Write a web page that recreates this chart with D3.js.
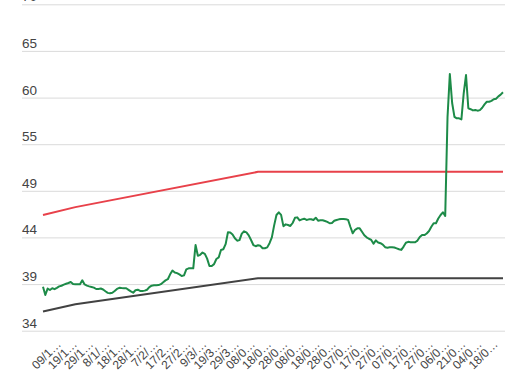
<!DOCTYPE html>
<html>
<head>
<meta charset="utf-8">
<script src="https://cdn.jsdelivr.net/npm/d3@7"></script>
<style>
  body { margin: 0; background: #fff; }
  svg { display: block; font-family: Roboto, "Noto Sans", sans-serif; }
  .grid line { stroke: #dadada; stroke-width: 1; }
  .grid path, .xaxis path { display: none; }
  .grid text { fill: #444; font-size: 13.5px; }
  .xaxis text { fill: #444; font-size: 12px; }
  .series { fill: none; stroke-width: 2; stroke-linejoin: round; }
</style>
</head>
<body>
<svg id="chart" width="523" height="385"></svg>
<script>
// one label every 7 trading days
var labelEvery = 7;
var xLabels = [
  "09/12/2019", "19/12/2019", "29/12/2019", "8/1/2020", "18/1/2020", "28/1/2020",
  "7/2/2020", "17/2/2020", "27/2/2020", "9/3/2020", "19/3/2020", "29/3/2020",
  "08/04/2020", "18/04/2020", "28/04/2020", "08/05/2020", "18/05/2020", "28/05/2020",
  "07/06/2020", "17/06/2020", "27/06/2020", "07/07/2020", "17/07/2020", "27/07/2020",
  "06/08/2020", "21/08/2020", "04/09/2020", "18/09/2020"
];

var price = [
  38.85, 37.94, 38.65, 38.49, 38.68, 38.58, 38.73, 38.89, 38.96, 39.08,
  39.18, 39.26, 39.37, 39.15, 39.12, 39.12, 39.12, 39.56, 39.10, 38.97,
  38.89, 38.82, 38.75, 38.60, 38.61, 38.65, 38.54, 38.35, 38.17, 38.12,
  38.18, 38.38, 38.61, 38.73, 38.70, 38.68, 38.68, 38.51, 38.33, 38.19,
  38.46, 38.52, 38.38, 38.38, 38.42, 38.52, 38.80, 38.97, 39.00, 39.02,
  39.03, 39.13, 39.34, 39.55, 39.68, 40.22, 40.63, 40.42, 40.35, 40.21,
  40.03, 40.10, 40.77, 40.88, 40.88, 40.88, 43.45, 42.26, 42.37, 42.62,
  42.48, 41.95, 41.14, 41.14, 41.34, 41.91, 42.08, 42.90, 42.98, 43.54,
  44.85, 44.82, 44.61, 44.19, 43.93, 43.99, 44.71, 44.96, 44.85, 44.52,
  44.00, 43.45, 43.32, 43.42, 43.36, 43.09, 43.09, 43.19, 43.65, 44.29,
  45.62, 46.76, 47.06, 46.77, 45.53, 45.73, 45.66, 45.55, 45.88, 46.45,
  46.50, 46.17, 46.28, 46.35, 46.22, 46.28, 46.29, 46.21, 46.46, 46.13,
  46.17, 46.18, 46.10, 46.00, 45.85, 45.88, 46.12, 46.21, 46.28, 46.32,
  46.32, 46.30, 46.21, 45.44, 44.74, 45.13, 45.29, 45.29, 44.91, 44.53,
  44.30, 44.14, 44.01, 43.60, 43.96, 43.73, 43.65, 43.50, 43.21, 43.16,
  43.20, 43.20, 43.17, 43.08, 42.99, 42.91, 43.28, 43.70, 43.80, 43.75,
  43.75, 43.76, 43.94, 44.33, 44.55, 44.55, 44.72, 45.00, 45.46, 45.85,
  45.85, 46.38, 46.76, 47.06, 46.66, 57.57, 62.31, 59.11, 57.59, 57.42,
  57.42, 57.31, 60.18, 62.20, 58.53, 58.43, 58.30, 58.34, 58.27, 58.33,
  58.59, 58.96, 59.25, 59.25, 59.35, 59.53, 59.59, 59.85, 60.04, 60.29
];

// upper and lower bands: value at the days where the slope changes
var upperDays = [0, 14, 93, 199];
var upperVals = [46.76, 47.63, 51.52, 51.52];
var lowerDays = [0, 14, 93, 199];
var lowerVals = [36.12, 36.92, 39.78, 39.78];

var yTicks = [34, 39.14, 44.29, 49.43, 54.57, 59.71, 64.86, 70];

var svg = d3.select("#chart");

var x = d3.scaleLinear().domain([0, price.length - 1]).range([43, 503]);
var y = d3.scaleLinear().domain([34, 70]).range([330.7, 4.3]);

// horizontal grid with labels sitting on top of each line
var grid = svg.append("g")
  .attr("class", "grid")
  .attr("transform", "translate(22,0)")
  .call(d3.axisRight(y).tickValues(yTicks).tickSize(483).tickFormat(d3.format(".0f")));
grid.selectAll("text")
  .attr("x", 0)
  .attr("y", -3.5)
  .attr("dy", 0);

// slanted, truncated date labels
var xAxis = svg.append("g")
  .attr("class", "xaxis")
  .attr("transform", "translate(0,345)")
  .call(d3.axisBottom(x)
    .tickValues(xLabels.map(function (d, i) { return (i + 1) * labelEvery; }))
    .tickSize(0)
    .tickFormat(function (d, i) { return xLabels[i].slice(0, 4) + "\u2026"; }));
xAxis.selectAll("text")
  .attr("x", 0)
  .attr("y", 0)
  .attr("dy", 0)
  .attr("text-anchor", "end")
  .attr("transform", "translate(2,0) rotate(-45)");

var line = d3.line()
  .x(function (d) { return x(d[0]); })
  .y(function (d) { return y(d[1]); });

svg.append("path")
  .attr("class", "series")
  .attr("stroke", "#e8414a")
  .attr("d", line(upperDays.map(function (d, i) { return [d, upperVals[i]]; })));

svg.append("path")
  .attr("class", "series")
  .attr("stroke", "#424242")
  .attr("d", line(lowerDays.map(function (d, i) { return [d, lowerVals[i]]; })));

svg.append("path")
  .attr("class", "series")
  .attr("stroke", "#1d8b48")
  .attr("d", line(price.map(function (v, i) { return [i, v]; })));
</script>
</body>
</html>
